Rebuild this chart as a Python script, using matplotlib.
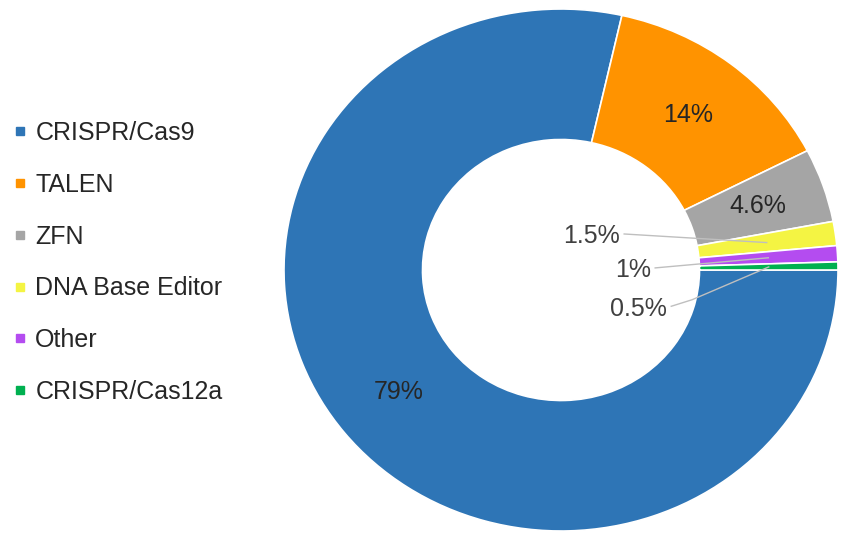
import numpy as np
import matplotlib.pyplot as plt
from matplotlib.lines import Line2D

plt.rcParams['font.family'] = ['Liberation Sans', 'DejaVu Sans']

# share of genome editing tools (percent)
methods = ['CRISPR/Cas9', 'TALEN', 'ZFN', 'DNA Base Editor', 'Other', 'CRISPR/Cas12a']
shares = [79, 14, 4.6, 1.5, 1, 0.5]
colors = ['#2E75B6', '#FF9300', '#A5A5A5', '#F4F443', '#B44CF0', '#00B050']

fig = plt.figure(figsize=(8.45, 5.33), dpi=100)
ax = fig.add_axes([284 / 845, 2 / 533, 554 / 845, 522 / 533])

wedges, _ = ax.pie(shares, colors=colors, startangle=0, counterclock=False,
                   radius=1, wedgeprops=dict(width=0.5, edgecolor='white', linewidth=1.2))
ax.set_aspect('auto')
ax.set_xlim(-1, 1)
ax.set_ylim(-1, 1)


def mid_point(w, r=0.75):
    a = np.deg2rad((w.theta1 + w.theta2) / 2)
    return r * np.cos(a), r * np.sin(a)


def pct(v):
    return f'{v:g}%'


# big slices: label in the middle of the ring
for w, v in zip(wedges[:3], shares[:3]):
    x, y = mid_point(w)
    ax.text(x, y, pct(v), ha='center', va='center', fontsize=18, color='#262626')

# small slices: label inside the hole with a leader line
small_pos = [(0.213, 0.130), (0.325, 0.0), (0.383, -0.149)]
for w, v, (tx, ty) in zip(wedges[3:], shares[3:], small_pos):
    ex, ey = mid_point(w)
    ax.text(tx, ty, pct(v), ha='right', va='center', fontsize=18, color='#404040')
    if v < 1:
        xs = [tx + 0.015, tx + 0.09, ex]
        ys = [ty + 0.01, ty + 0.035, ey]
    else:
        xs = [tx + 0.015, ex]
        ys = [ty + 0.008, ey]
    ax.plot(xs, ys, color='#BFBFBF', lw=1)

handles = [Line2D([], [], marker='s', ls='', color=c, markersize=6) for c in colors]
fig.legend(handles, methods, loc='upper left', bbox_to_anchor=(-0.01, 0.815),
           frameon=False, fontsize=18, handlelength=0.5, handletextpad=0.35,
           labelspacing=1.11, labelcolor='#262626')

fig.savefig('out.png', dpi=100)
